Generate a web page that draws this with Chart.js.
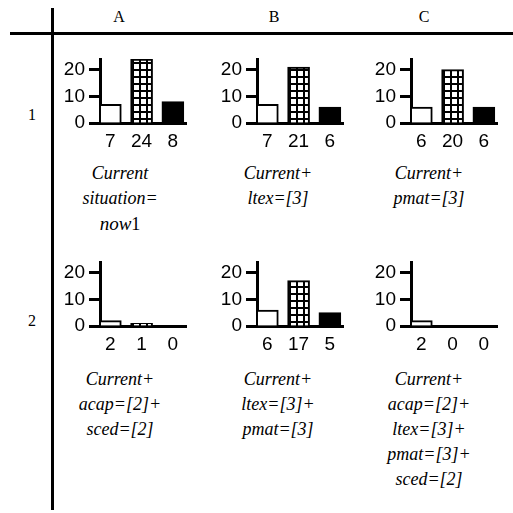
<!DOCTYPE html>
<html>
<head>
<meta charset="utf-8">
<script src="https://cdn.jsdelivr.net/npm/chart.js@4.4.0/dist/chart.umd.min.js"></script>
<style>
  html, body { margin: 0; padding: 0; background: #fff; }
  body { width: 513px; height: 513px; position: relative; overflow: hidden; }
  .vline { position: absolute; left: 51px; top: 8px; width: 3px; height: 502px; background: #000; }
  .hline { position: absolute; left: 10px; top: 32px; width: 503px; height: 3px; background: #000; }
  .head { position: absolute; width: 40px; margin-left: -20px; text-align: center; font: 16px/18px 'Liberation Serif'; color: #000; }
  .cell { position: absolute; width: 133px; height: 100px; }
  .cap { position: absolute; width: 140px; margin-left: -70px; text-align: center; font: italic 18px/25px 'Liberation Serif'; color: #000; }
  .cap .m { font-size: 19px; }
  .cap .up { font-style: normal; font-size: 18px; }
</style>
</head>
<body>
<div class="vline"></div>
<div class="hline"></div>
<script>
const columns = ['A', 'B', 'C'];
const rows = ['1', '2'];
// valores de cada celda, orden A1 B1 C1 A2 B2 C2
const whiteBars = [7, 7, 6, 2, 6, 2];
const gridBars = [24, 21, 20, 1, 17, 0];
const blackBars = [8, 6, 6, 0, 5, 0];
const yTicks = [0, 10, 20];
const yMax = 24;
const captions = [
    ['Current', 'situation=', 'now1'],
    ['Current+', 'ltex=[3]'],
    ['Current+', 'pmat=[3]'],
    ['Current+', 'acap=[2]+', 'sced=[2]'],
    ['Current+', 'ltex=[3]+', 'pmat=[3]'],
    ['Current+', 'acap=[2]+', 'ltex=[3]+', 'pmat=[3]+', 'sced=[2]']
];

const colLeft = [55, 212, 366];   // canvas left per column
const rowTop = [55, 258];         // canvas top per row
const headX = [119, 274, 424];
const rowLabelY = [106, 312];
const capX = [120, 278, 429];
const capTop = [161, 367];

Chart.defaults.font.family = 'Liberation Sans';
Chart.defaults.font.size = 19;
Chart.defaults.color = '#000';

function gridPattern() {
    const c = document.createElement('canvas');
    c.width = 7; c.height = 7;
    const g = c.getContext('2d');
    g.fillStyle = '#fff'; g.fillRect(0, 0, 7, 7);
    g.fillStyle = '#000'; g.fillRect(0, 0, 2, 7); g.fillRect(0, 0, 7, 2);
    return g.createPattern(c, 'repeat');
}

function addDiv(cls, left, top, html) {
    const d = document.createElement('div');
    d.className = cls;
    d.style.left = left + 'px';
    d.style.top = top + 'px';
    d.innerHTML = html;
    document.body.appendChild(d);
    return d;
}

columns.forEach((c, i) => addDiv('head', headX[i], 8, c));
rows.forEach((r, i) => addDiv('head', 32, rowLabelY[i], r));

function createCell(idx) {
    const col = idx % 3, row = Math.floor(idx / 3);
    const box = addDiv('cell', colLeft[col], rowTop[row], '');
    const canvas = document.createElement('canvas');
    box.appendChild(canvas);
    const values = [whiteBars[idx], gridBars[idx], blackBars[idx]];
    new Chart(canvas.getContext('2d'), {
        type: 'bar',
        data: {
            datasets: [{
                data: values.map((v, k) => ({ x: k, y: v })),
                backgroundColor: ['#fff', gridPattern(), '#000'],
                borderColor: '#000',
                borderWidth: 2,
                barThickness: 22
            }]
        },
        options: {
            responsive: true,
            maintainAspectRatio: false,
            animation: false,
            layout: { padding: { top: 4, right: 2, left: 0, bottom: 0 } },
            plugins: { legend: { display: false }, tooltip: { enabled: false } },
            scales: {
                x: {
                    type: 'linear',
                    offset: false,
                    bounds: 'data',
                    min: -0.33,
                    max: 2.42,
                    grid: { display: false, drawTicks: false, offset: false },
                    border: { display: true, color: '#000', width: 3 },
                    afterBuildTicks: s => { s.ticks = [0, 1, 2].map(v => ({ value: v })); },
                    afterFit: s => { s.height = 32; s.paddingLeft = 0; s.paddingRight = 0; },
                    ticks: {
                        autoSkip: false,
                        maxRotation: 0,
                        padding: 7,
                        callback: v => values[v]
                    }
                },
                y: {
                    min: 0,
                    max: yMax,
                    grid: { drawOnChartArea: false, tickLength: 11, tickWidth: 3, color: '#000' },
                    border: { display: true, color: '#000', width: 3 },
                    afterBuildTicks: s => { s.ticks = yTicks.map(v => ({ value: v })); },
                    afterFit: s => { s.width = 45; s.paddingTop = 0; s.paddingBottom = 0; },
                    ticks: { padding: 4 }
                }
            }
        }
    });
    const lines = captions[idx].map(t => t === 'now1'
        ? '<span class="m">now</span><span class="up">1</span>' : t);
    addDiv('cap', capX[col], capTop[row], lines.join('<br>'));
}

for (let i = 0; i < 6; i++) createCell(i);
</script>
</body>
</html>
